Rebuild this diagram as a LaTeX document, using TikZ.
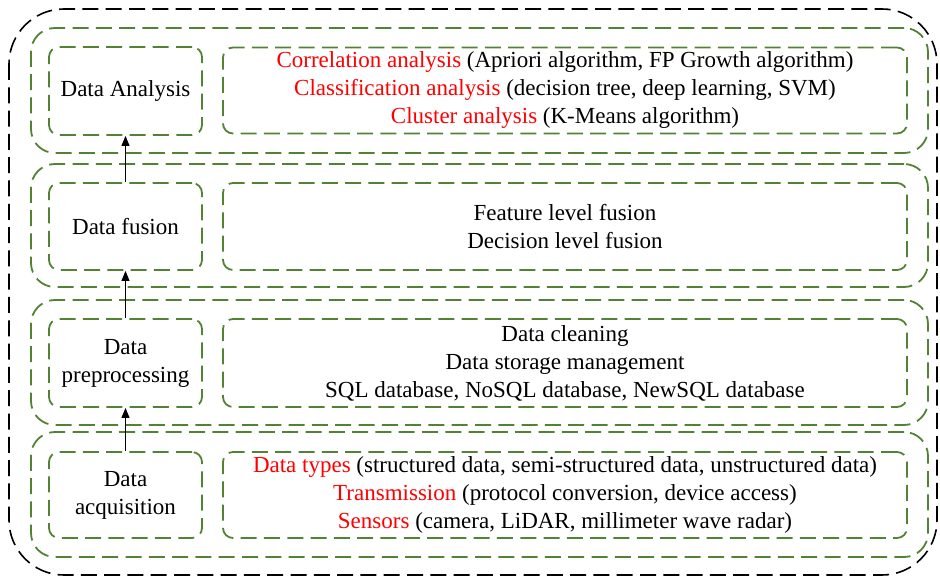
\documentclass[tikz,border=0pt]{standalone}
\usepackage{fontspec}
\setmainfont{Liberation Serif}
\usetikzlibrary{arrows.meta}
\definecolor{grn}{HTML}{548235}
\definecolor{rd}{HTML}{FF0000}
\tikzset{
  outerbox/.style={draw=black, line width=1.6pt, dash pattern=on 16pt off 7.3pt, rounded corners=55pt},
  layerbox/.style={draw=grn, line width=1.8pt, dash pattern=on 16pt off 7.3pt, rounded corners=24pt, inner sep=0pt},
  leftbox/.style={draw=grn, line width=1.8pt, dash pattern=on 16pt off 7.3pt, rounded corners=10pt, minimum width=153pt, inner sep=0pt, align=center, font=\fontsize{23}{28}\selectfont},
  rightbox/.style={draw=grn, line width=1.8pt, dash pattern=on 16pt off 7.3pt, rounded corners=10pt, minimum width=684pt, inner sep=0pt, align=center, font=\fontsize{23}{28}\selectfont},
  uparrow/.style={draw=black, line width=1pt, -{Triangle[length=10pt,width=8pt]}}
}
\newcommand{\hl}[1]{\textcolor{rd}{#1}}
\begin{document}
\begin{tikzpicture}[x=1pt,y=-1pt]
\useasboundingbox (0,0) rectangle (940,577);
\draw[outerbox] (9,9) rectangle (937,575);
% layers
\node[layerbox, minimum width=897pt, minimum height=125pt] (L1) at (479.5,90.5) {};
\node[layerbox, minimum width=897pt, minimum height=123pt] (L2) at (479.5,225.5) {};
\node[layerbox, minimum width=897pt, minimum height=125pt] (L3) at (479.5,362.5) {};
\node[layerbox, minimum width=897pt, minimum height=125pt] (L4) at (479.5,494.5) {};
% left boxes
\node[leftbox, minimum height=88pt] (a1) at (125.5,91) {Data Analysis};
\node[leftbox, minimum height=87pt] (a2) at (125.5,226.5) {Data fusion};
\node[leftbox, minimum height=88pt] (a3) at (125.5,363) {Data\\preprocessing};
\node[leftbox, minimum height=86pt] (a4) at (125.5,495) {Data\\acquisition};
% right boxes
\node[rightbox, minimum height=86pt] (b1) at (565,90.5) {\hl{Correlation analysis} (Apriori algorithm, FP Growth algorithm)\\\hl{Classification analysis} (decision tree, deep learning, SVM)\\\hl{Cluster analysis} (K-Means algorithm)};
\node[rightbox, minimum height=87pt] (b2) at (565,226.5) {Feature level fusion\\Decision level fusion};
\node[rightbox, minimum height=88pt] (b3) at (565,363) {Data cleaning\\Data storage management\\SQL database, NoSQL database, NewSQL database};
\node[rightbox, minimum height=86pt] (b4) at (565,495) {\hl{Data types} (structured data, semi-structured data, unstructured data)\\\hl{Transmission} (protocol conversion, device access)\\\hl{Sensors} (camera, LiDAR, millimeter wave radar)};
% arrows
\draw[uparrow] (a4.north) -- (a3.south);
\draw[uparrow] (a3.north) -- (a2.south);
\draw[uparrow] (a2.north) -- (a1.south);
\end{tikzpicture}
\end{document}
